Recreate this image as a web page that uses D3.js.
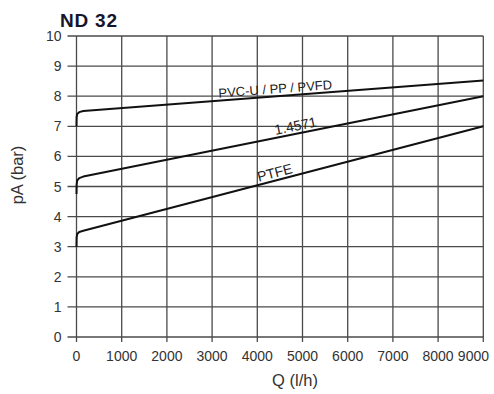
<!DOCTYPE html>
<html>
<head>
<meta charset="utf-8">
<script src="https://cdn.jsdelivr.net/npm/d3@7"></script>
<style>
  body { margin: 0; background: #fff; }
  svg { display: block; font-family: "Liberation Sans", Arial, sans-serif; }
</style>
</head>
<body>
<svg id="chart" width="494" height="394"></svg>
<script>
// axis ticks
let xTicks = [0, 1000, 2000, 3000, 4000, 5000, 6000, 7000, 8000, 9000]
let yTicks = [0, 1, 2, 3, 4, 5, 6, 7, 8, 9, 10]

// curves: Q (l/h) vs pA (bar)
let pvcQ = [0, 3, 15, 60, 150, 9000]
let pvcP = [7.0, 7.3, 7.41, 7.47, 7.51, 8.52]
let steelQ = [0, 3, 15, 60, 150, 9000]
let steelP = [4.75, 5.05, 5.2, 5.28, 5.33, 8.0]
let ptfeQ = [0, 3, 15, 60, 150, 9000]
let ptfeP = [3.0, 3.3, 3.42, 3.49, 3.53, 7.0]

let seriesNames = ['PVC-U / PP / PVFD', '1.4571', 'PTFE']
let labelQ = [4410, 4880, 4430]

let svg = d3.select('#chart')

let x = d3.scaleLinear().domain([0, 9000]).range([76.5, 483.3])
let y = d3.scaleLinear().domain([0, 10]).range([337, 36])

// gridlines
svg.append('g')
    .selectAll('line')
    .data(xTicks)
    .enter()
    .append('line')
    .attr('x1', d => x(d)).attr('x2', d => x(d))
    .attr('y1', y(10)).attr('y2', y(0) + 5)
    .attr('stroke', '#4a4a4a')
    .attr('stroke-width', 1.3)

svg.append('g')
    .selectAll('line')
    .data(yTicks)
    .enter()
    .append('line')
    .attr('x1', x(0) - 9).attr('x2', x(9000))
    .attr('y1', d => y(d)).attr('y2', d => y(d))
    .attr('stroke', '#4a4a4a')
    .attr('stroke-width', 1.3)

// tick labels
svg.append('g')
    .selectAll('text')
    .data(yTicks)
    .enter()
    .append('text')
    .attr('x', 61.5)
    .attr('y', d => y(d) + 5)
    .attr('text-anchor', 'end')
    .attr('font-size', 14)
    .attr('fill', '#333')
    .text(d => d)

svg.append('g')
    .selectAll('text')
    .data(xTicks)
    .enter()
    .append('text')
    .attr('x', d => d === 9000 ? 489 : x(d))
    .attr('y', 361)
    .attr('text-anchor', d => d === 9000 ? 'end' : 'middle')
    .attr('font-size', 14)
    .attr('fill', '#333')
    .text(d => d)

// axis titles
svg.append('text')
    .attr('x', 295).attr('y', 386)
    .attr('text-anchor', 'middle')
    .attr('font-size', 16.5)
    .attr('fill', '#333')
    .text('Q (l/h)')

svg.append('text')
    .attr('transform', 'translate(23,175) rotate(-90)')
    .attr('text-anchor', 'middle')
    .attr('font-size', 16.5)
    .attr('fill', '#333')
    .text('pA (bar)')

svg.append('text')
    .attr('x', 60).attr('y', 26.5)
    .attr('font-size', 19)
    .attr('font-weight', 'bold')
    .attr('letter-spacing', 0.8)
    .attr('fill', '#15152b')
    .text('ND 32')

// curves: steep rise at Q=0, then straight
let line = d3.line()
    .x(d => x(d[0]))
    .y(d => y(d[1]))

let curves = [
    d3.zip(pvcQ, pvcP),
    d3.zip(steelQ, steelP),
    d3.zip(ptfeQ, ptfeP)
]

svg.append('g')
    .selectAll('path')
    .data(curves)
    .enter()
    .append('path')
    .attr('d', line)
    .attr('fill', 'none')
    .attr('stroke', '#111')
    .attr('stroke-width', 2)
    .attr('stroke-linejoin', 'round')

// curve labels, rotated along the straight part
curves.forEach((pts, i) => {
    let a = pts[pts.length - 2]
    let b = pts[pts.length - 1]
    let t = (labelQ[i] - a[0]) / (b[0] - a[0])
    let pv = a[1] + t * (b[1] - a[1])
    let angle = Math.atan2(y(b[1]) - y(a[1]), x(b[0]) - x(a[0])) * 180 / Math.PI
    svg.append('text')
        .attr('transform', 'translate(' + x(labelQ[i]) + ',' + y(pv) + ') rotate(' + angle + ')')
        .attr('y', -3)
        .attr('text-anchor', 'middle')
        .attr('font-size', i === 0 ? 13 : 14)
        .attr('fill', '#222')
        .text(seriesNames[i])
})
</script>
</body>
</html>
